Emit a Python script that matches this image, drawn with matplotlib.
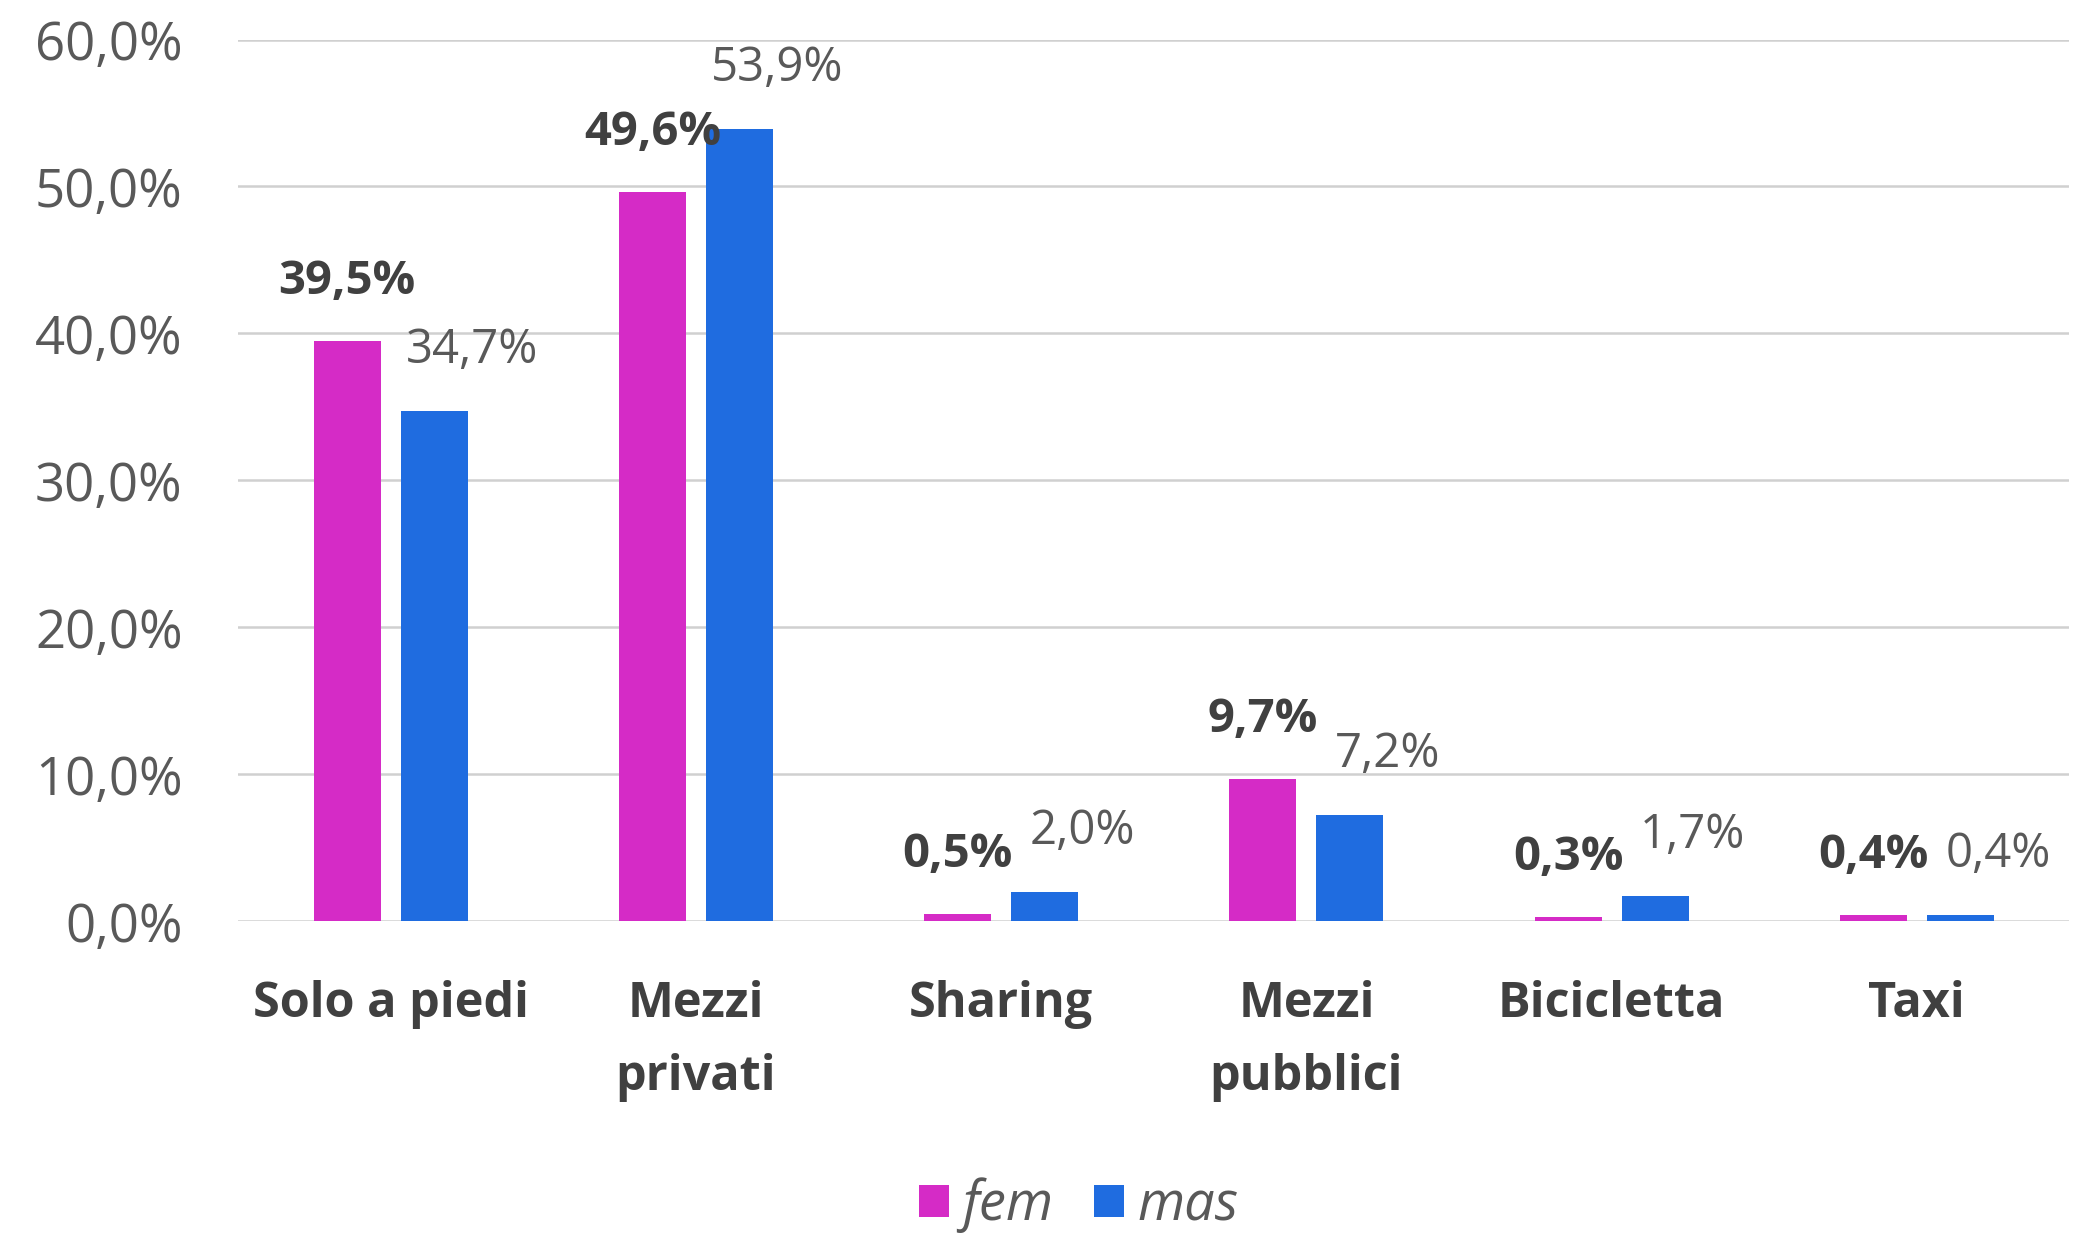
import matplotlib.pyplot as plt
import numpy as np

categories = ['Solo a piedi', 'Mezzi\nprivati', 'Sharing', 'Mezzi\npubblici', 'Bicicletta', 'Taxi']
fem = [39.5, 49.6, 0.5, 9.7, 0.3, 0.4]
mas = [34.7, 53.9, 2.0, 7.2, 1.7, 0.4]
series_names = ['fem', 'mas']
yticks = [0, 10, 20, 30, 40, 50, 60]

fem_color = '#D52BC6'
mas_color = '#1F6CE0'

plt.rcParams['font.family'] = ['Open Sans', 'DejaVu Sans']

fig = plt.figure(figsize=(20.74, 12.35), dpi=100)
ax = fig.add_axes([0.1148, 0.254, 0.883, 0.714])

x = np.arange(len(categories))
w = 0.22
off = 0.1425
b1 = ax.bar(x - off, fem, w, color=fem_color, label=series_names[0], zorder=3)
b2 = ax.bar(x + off, mas, w, color=mas_color, label=series_names[1], zorder=3)

def fmt(v):
    return f'{v:.1f}'.replace('.', ',') + '%'

for xi, v in zip(x, fem):
    ax.annotate(fmt(v), (xi - off, v), xytext=(0, 43), textcoords='offset points',
                ha='center', va='center', fontsize=34, fontweight='bold',
                color='#404040', annotation_clip=False)
for xi, v in zip(x, mas):
    ax.annotate(fmt(v), (xi + off, v), xytext=(27, 44), textcoords='offset points',
                ha='center', va='center', fontsize=34, color='#595959',
                annotation_clip=False)

ax.set_xlim(-0.5, len(categories) - 0.5)
ax.set_ylim(0, 60)
ax.set_yticks(yticks)
ax.set_yticklabels([f'{t},0%' for t in yticks], fontsize=38, color='#595959')
ax.set_xticks(x)
ax.set_xticklabels(categories, fontsize=35, fontweight='bold', color='#404040',
                   linespacing=1.65)
ax.tick_params(axis='both', length=0)
ax.tick_params(axis='y', pad=40)
ax.tick_params(axis='x', pad=42)
ax.grid(axis='y', color='#D0D0D0', linewidth=1.8, zorder=0)
for s in ax.spines.values():
    s.set_visible(False)

fig.legend(handles=[b1, b2], labels=series_names, loc='center',
           bbox_to_anchor=(0.52, 0.024), ncol=2, frameon=False,
           prop={'size': 39, 'style': 'italic'}, labelcolor='#595959',
           handlelength=0.55, handleheight=0.55, handletextpad=0.25,
           columnspacing=0.75)

fig.savefig('out.png', dpi=100, facecolor='white')
